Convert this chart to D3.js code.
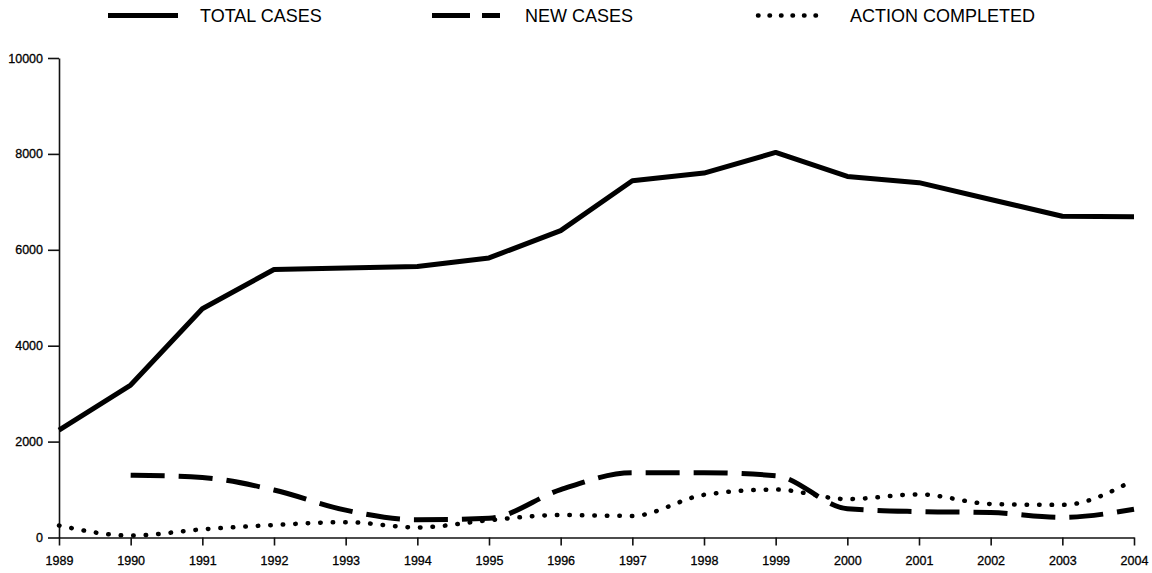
<!DOCTYPE html>
<html>
<head>
<meta charset="utf-8">
<script src="https://cdn.jsdelivr.net/npm/d3@7"></script>
<style>
  html, body { margin: 0; padding: 0; background: #fff; }
  svg { display: block; font-family: "Liberation Sans", Arial, sans-serif; }
</style>
</head>
<body>
<svg id="chart" width="1152" height="573"></svg>
<script>
const years = [1989,1990,1991,1992,1993,1994,1995,1996,1997,1998,1999,2000,2001,2002,2003,2004];
const totalCases = [2240,3180,4770,5590,5620,5650,5830,6400,7440,7600,8030,7530,7400,7050,6700,6690];
const newCases = [null,1300,1250,990,570,370,400,1000,1350,1350,1290,600,540,520,420,590];
const actionCompleted = [250,40,170,260,320,210,360,470,450,890,1000,800,900,700,680,1200];
const yTicks = [0,2000,4000,6000,8000,10000];
const seriesNames = ["TOTAL CASES","NEW CASES","ACTION COMPLETED"];

const svg = d3.select("#chart");
const x = d3.scaleLinear().domain([1989,2004]).range([59,1134]);
const y = d3.scaleLinear().domain([0,10000]).range([537.5,58]);

// axes
const xAxis = d3.axisBottom(x).tickValues(years).tickFormat(d3.format("d")).tickSize(8).tickSizeOuter(0).tickPadding(11);
const yAxis = d3.axisLeft(y).tickValues(yTicks).tickFormat(d3.format("d")).tickSize(11).tickSizeOuter(0).tickPadding(5);

const gx = svg.append("g").attr("transform", `translate(0,${y(0)})`).call(xAxis);
const gy = svg.append("g").attr("transform", `translate(${x(1989)},0)`).call(yAxis);
[gx, gy].forEach(g => {
  g.selectAll("path.domain").attr("stroke", "#111").attr("stroke-width", 1.6);
  g.selectAll(".tick line").attr("stroke", "#111").attr("stroke-width", 1.6);
  g.selectAll(".tick text").attr("fill", "#000").attr("font-size", 12.5)
    .attr("font-family", '"Liberation Sans", Arial, sans-serif')
    .attr("stroke", "#000").attr("stroke-width", 0.3);
});

// lines
const mk = (vals, curve) => d3.line()
  .defined(d => d[1] !== null)
  .x(d => x(d[0])).y(d => y(d[1]))
  .curve(curve)(years.map((yr, i) => [yr, vals[i]]));

const styles = [
  { data: totalCases, dash: null, cap: "butt", curve: d3.curveLinear },
  { data: newCases, dash: "34,14", cap: "butt", curve: d3.curveMonotoneX },
  { data: actionCompleted, dash: "0.5,12", cap: "round", curve: d3.curveMonotoneX }
];

styles.forEach(s => {
  svg.append("path")
    .attr("d", mk(s.data, s.curve))
    .attr("fill", "none")
    .attr("stroke", "#000")
    .attr("stroke-width", s.cap === "round" ? 4.5 : 5)
    .attr("stroke-linejoin", "round")
    .attr("stroke-linecap", s.cap)
    .attr("stroke-dasharray", s.dash);
});

// legend
const legend = [
  { x1: 108, x2: 178, tx: 200, dash: null, cap: "butt", w: 5 },
  { x1: 432, x2: 500, tx: 525, dash: "38,12", cap: "butt", w: 5 },
  { x1: 758, x2: 822, tx: 850, dash: "0.5,11", cap: "round", w: 4.5 }
];
legend.forEach((l, i) => {
  svg.append("line")
    .attr("x1", l.x1).attr("x2", l.x2).attr("y1", 15.5).attr("y2", 15.5)
    .attr("stroke", "#000").attr("stroke-width", l.w)
    .attr("stroke-linecap", l.cap).attr("stroke-dasharray", l.dash);
  svg.append("text")
    .attr("x", l.tx).attr("y", 22)
    .attr("font-size", 18)
    .attr("fill", "#000")
    .text(seriesNames[i]);
});
</script>
</body>
</html>
